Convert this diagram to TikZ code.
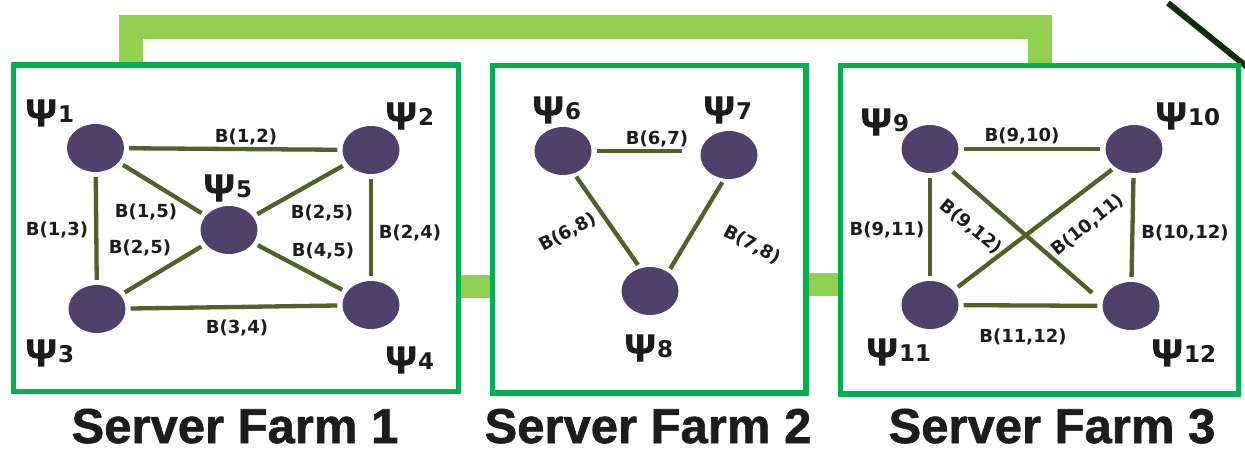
\documentclass[tikz,border=0pt]{standalone}
\usepackage{fontspec}
\setmainfont{DejaVu Sans}
\newfontfamily\titlefont{Liberation Sans}[BoldFeatures={FakeBold=1.2}]
\newfontfamily\greekfont{Liberation Sans}[BoldFeatures={FakeBold=2.5}]
\usetikzlibrary{shapes.geometric,calc}
\definecolor{farmgreen}{HTML}{00B050}
\definecolor{busgreen}{HTML}{92D050}
\definecolor{servercol}{RGB}{82,64,108}
\definecolor{linkcol}{HTML}{4F6228}
\definecolor{tickcol}{RGB}{8,48,4}
\definecolor{inkcol}{RGB}{28,28,28}
% server label: heavy psi with a smaller, slightly raised index
\newcommand\psilab[1]{{\greekfont\bfseries\fontsize{38}{40}\selectfont Ψ}\kern1.5pt\raisebox{4pt}{\bfseries\fontsize{23}{25}\selectfont #1}}
\begin{document}
\begin{tikzpicture}[x=1pt,y=-1pt,
  farm/.style={draw=farmgreen, line width=3.5pt, inner sep=0, fill=none},
  bus/.style={draw=busgreen, line width=24pt, line join=miter},
  server/.style={ellipse, fill=servercol, minimum width=57pt, minimum height=48pt, inner sep=0},
  link/.style={draw=linkcol, line width=4.3pt, shorten >=5pt, shorten <=5pt},
  lbl/.style={font=\bfseries\fontsize{18}{20}\selectfont, text=inkcol, inner sep=0},
  psi/.style={text=inkcol, inner sep=0},
  title/.style={font=\titlefont\bfseries\fontsize{49}{52}\selectfont, text=inkcol, anchor=base, inner sep=0},
  tickline/.style={draw=tickcol, line width=6pt}]
\fill[white] (0,0) rectangle (1245,450);
\clip (0,0) rectangle (1245,450);

% farm frames (placed first so the buses can attach to them)
\path node[farm, minimum width=443pt, minimum height=324.5pt] (f1) at (236,228) {}
      node[farm, minimum width=312pt, minimum height=326pt] (f2) at (649,229) {}
      node[farm, minimum width=396pt, minimum height=327pt] (f3) at (1039.5,229.5) {};

% interconnecting buses
\draw[bus] ([xshift=-105pt]f1.north) |- ([yshift=37pt]f3.north) -- (f3.north);
\draw[bus, line width=23pt] ([yshift=-58pt]f1.east) -- ([yshift=-57pt]f2.west);
\draw[bus, line width=23pt] ([yshift=-55pt]f2.east) -- ([yshift=-54.5pt]f3.west);

% corner stroke at the top right
\coordinate (tickA) at (1168,3);
\coordinate (tickB) at (1252,71);
\draw[tickline] (tickA) -- (tickB);

% frames drawn over the bus ends
\draw[farm] (f1.south west) rectangle (f1.north east);
\draw[farm] (f2.south west) rectangle (f2.north east);
\draw[farm] (f3.south west) rectangle (f3.north east);

% servers
\node[server] (p1) at (95.5,148) {};
\node[server] (p2) at (371,150) {};
\node[server] (p5) at (229,230) {};
\node[server] (p3) at (97,309) {};
\node[server] (p4) at (371,305) {};
\node[server] (p6) at (563,151) {};
\node[server] (p7) at (729,155) {};
\node[server] (p8) at (650,291) {};
\node[server] (p9) at (930,149) {};
\node[server] (p10) at (1134,149) {};
\node[server] (p11) at (930,305) {};
\node[server] (p12) at (1131,306) {};

% links, farm 1
\draw[link] (p1) -- (p2);
\draw[link] (p1) -- (p3);
\draw[link] (p2) -- (p4);
\draw[link] (p3) -- (p4);
\draw[link] (p1) -- (p5);
\draw[link] (p2) -- (p5);
\draw[link] (p3) -- (p5);
\draw[link] (p4) -- (p5);
% links, farm 2
\draw[link, shorten >=47pt] (p6) -- (p6 -| p7);
\draw[link, shorten >=4pt, shorten <=4pt] (p6.-64) -- (p8.113);
\draw[link, shorten >=4pt, shorten <=4pt] (p7.-101) -- (p8.46);
% links, farm 3
\draw[link] (p9) -- (p10);
\draw[link] (p9) -- (p11);
\draw[link] (p10) -- (p12);
\draw[link] (p11) -- (p12);
\draw[link, shorten <=6pt, shorten >=14pt] (p9.-46) -- (p12.172);
\draw[link, shorten <=4pt, shorten >=6pt] (p10.-136) -- (p11.32);

% server labels
\node[psi] (n1) at (50,113) {\psilab{1}};
\node[psi] (n2) at (410,116) {\psilab{2}};
\node[psi] (n5) at (228,188) {\psilab{5}};
\node[psi] (n3) at (50,353) {\psilab{3}};
\node[psi] (n4) at (410,360) {\psilab{4}};
\node[psi] (n6) at (557,110) {\psilab{6}};
\node[psi] (n7) at (728,110) {\psilab{7}};
\node[psi] (n8) at (649,348) {\psilab{8}};
\node[psi] (n9) at (885,122) {\psilab{9}};
\node[psi] (n10) at (1188,116) {\psilab{10}};
\node[psi] (n11) at (899,352) {\psilab{11}};
\node[psi] (n12) at (1184,353) {\psilab{12}};

% link labels, farm 1
\node[lbl] (b12) at (246,137) {B(1,2)};
\node[lbl] (b13) at (57,230) {B(1,3)};
\node[lbl] (b15) at (146,212) {B(1,5)};
\node[lbl] (b25a) at (140,248) {B(2,5)};
\node[lbl] (b25b) at (322,213) {B(2,5)};
\node[lbl] (b45) at (323,251) {B(4,5)};
\node[lbl] (b24) at (410,233) {B(2,4)};
\node[lbl] (b34) at (237,328) {B(3,4)};
% link labels, farm 2
\node[lbl] (b67) at (657,139) {B(6,7)};
\node[lbl, rotate=28] (b68) at (568,232) {B(6,8)};
\node[lbl, rotate=-28] (b78) at (752,245) {B(7,8)};
% link labels, farm 3
\node[lbl] (b910) at (1022,136) {B(9,10)};
\node[lbl] (b911) at (887,230) {B(9,11)};
\node[lbl] (b1012) at (1185,233) {B(10,12)};
\node[lbl] (b1112) at (1023,337) {B(11,12)};
\node[lbl, rotate=-40] (b912) at (971,227) {B(9,12)};
\node[lbl, rotate=39] (b1011) at (1088,225) {B(10,11)};

% farm titles
\node[title] (t1) at (235,443) {Server Farm 1};
\node[title] (t2) at (648,443) {Server Farm 2};
\node[title] (t3) at (1052,443) {Server Farm 3};
\end{tikzpicture}
\end{document}
